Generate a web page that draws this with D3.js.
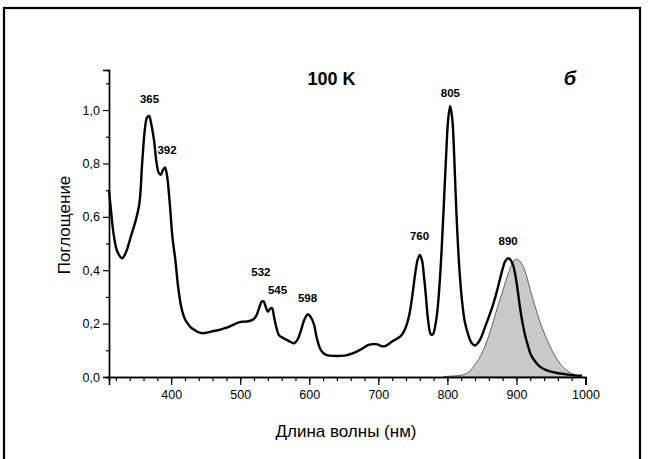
<!DOCTYPE html>
<html><head><meta charset="utf-8">
<script src="https://cdn.jsdelivr.net/npm/d3@7"></script>
<style>
html,body{margin:0;padding:0;background:#fff;}
svg{display:block;font-family:"Liberation Sans",Arial,sans-serif;}
</style></head>
<body>
<svg id="chart" width="648" height="459"></svg>
<script>
// Absorption spectrum (100 K)
const absWl = [310,313,317,322,329,335,342,348,354,358,362,365,368,371,375,379,382,385,388,391,394,398,402,406,410,414,418,422,428,434,440,446,452,458,468,477,485,491,497,503,510,518,523,527,531,534,537,540,543,546,549,552,556,562,568,573,578,583,588,593,598,602,607,611,616,621,627,635,645,655,662,670,677,686,693,699,704,709,714,720,726,732,737,741,745,749,753,757,760,763,766,769,772,776,779,783,786,790,794,798,801,804,807,810,813,817,821,825,830,835,840,845,850,855,860,865,870,875,880,884,888,891,895,898,901,905,909,913,917,920,926,934,945,955,963,975,985,995];
const absVal = [0.70,0.62,0.53,0.47,0.445,0.47,0.53,0.58,0.65,0.80,0.93,0.972,0.978,0.95,0.89,0.80,0.765,0.757,0.775,0.785,0.755,0.65,0.52,0.44,0.34,0.27,0.23,0.207,0.187,0.176,0.167,0.164,0.166,0.17,0.175,0.182,0.19,0.197,0.204,0.207,0.208,0.214,0.228,0.255,0.282,0.283,0.262,0.245,0.255,0.258,0.225,0.19,0.157,0.146,0.138,0.131,0.126,0.140,0.175,0.215,0.235,0.225,0.195,0.145,0.105,0.088,0.081,0.079,0.079,0.082,0.088,0.097,0.107,0.120,0.123,0.122,0.116,0.115,0.122,0.133,0.142,0.152,0.170,0.195,0.235,0.30,0.38,0.44,0.457,0.44,0.38,0.30,0.215,0.16,0.16,0.20,0.26,0.40,0.60,0.82,0.96,1.015,0.97,0.82,0.62,0.42,0.29,0.21,0.16,0.128,0.118,0.13,0.155,0.19,0.225,0.262,0.305,0.355,0.405,0.435,0.445,0.44,0.42,0.388,0.34,0.263,0.20,0.151,0.115,0.089,0.062,0.039,0.024,0.017,0.013,0.009,0.006,0.005];

// Fluorescence (filled, grey)
const flWl = [795,810,823,832,838,845,852,860,867,873,879,884,889,894,898,902,906,910,915,920,927,934,941,949,956,963,970,978,986,995];
const flVal = [0.002,0.004,0.008,0.02,0.04,0.065,0.10,0.155,0.213,0.265,0.313,0.355,0.394,0.425,0.44,0.44,0.43,0.413,0.375,0.326,0.265,0.207,0.16,0.113,0.078,0.051,0.031,0.016,0.007,0.002];

// Peak labels
const peakText = ["365","392","532","545","598","760","805","890"];
const peakWl   = [368.7,394,530,554,597.4,759.6,804.3,888];
const peakY    = [1.027,0.834,0.379,0.312,0.281,0.512,1.05,0.494];

// Axis ticks
const xTicks = [400,500,600,700,800,900,1000];
const yTicks = [0,0.2,0.4,0.6,0.8,1.0];

const svg = d3.select("#chart");
const x = d3.scaleLinear().domain([310,1000]).range([109,585.5]);
const y = d3.scaleLinear().domain([0,1.15]).range([377,70]);

// frame
svg.append("rect").attr("x",4).attr("y",8).attr("width",636).attr("height",470)
  .attr("fill","none").attr("stroke","#000").attr("stroke-width",2.2);

// fluorescence area
const flData = flWl.map((w,i)=>[w,flVal[i]]);
svg.append("path").datum(flData)
  .attr("d", d3.area().x(d=>x(d[0])).y0(y(0)).y1(d=>y(d[1])).curve(d3.curveCatmullRom))
  .attr("fill","#c9c9c9").attr("stroke","#555").attr("stroke-width",0.9);

// absorption line
const absData = absWl.map((w,i)=>[w,absVal[i]]);
svg.append("path").datum(absData)
  .attr("d", d3.line().x(d=>x(d[0])).y(d=>y(d[1])).curve(d3.curveCatmullRom))
  .attr("fill","none").attr("stroke","#000").attr("stroke-width",2.4).attr("stroke-linejoin","round");

// axes
const fmt = d => d3.format(".1f")(d).replace(".",",");
const gx = svg.append("g").attr("transform",`translate(0,${y(0)})`);
gx.call(d3.axisBottom(x).tickValues(d3.range(320,1001,20)).tickSize(4).tickFormat(""));
gx.append("g").call(d3.axisBottom(x).tickValues(xTicks).tickSize(8).tickFormat(d3.format("d")).tickPadding(5));
gx.selectAll(".domain").attr("stroke-width",1.6);
gx.selectAll("line").attr("stroke-width",1.2);

const gy = svg.append("g").attr("transform",`translate(${x(310)},0)`);
gy.call(d3.axisLeft(y).tickValues(d3.range(0.1,1.15,0.2)).tickSize(3).tickFormat(""));
gy.append("g").call(d3.axisLeft(y).tickValues(yTicks).tickSize(6).tickFormat(fmt).tickPadding(3));
gy.selectAll(".domain").attr("stroke-width",1.4);
gy.selectAll("line").attr("stroke-width",1.2);

svg.selectAll(".tick text").attr("font-size",12.5).attr("fill","#000")
  .attr("font-family","Liberation Sans, Arial, sans-serif");

// peak labels
svg.append("g").selectAll("text").data(peakText).join("text")
  .attr("x",(d,i)=>x(peakWl[i])).attr("y",(d,i)=>y(peakY[i]))
  .attr("text-anchor","middle").attr("font-size",11.5).attr("font-weight","bold").text(d=>d);

// titles
svg.append("text").attr("x",331.5).attr("y",85).attr("text-anchor","middle")
  .attr("font-size",18).attr("font-weight","bold").text("100 K");
svg.append("text").attr("x",570).attr("y",85).attr("text-anchor","middle")
  .attr("font-size",20).attr("font-weight","bold").attr("font-style","italic").text("б");

svg.append("text").attr("x",346).attr("y",437).attr("text-anchor","middle")
  .attr("font-size",17).text("Длина волны (нм)");
svg.append("text").attr("transform","translate(70,225) rotate(-90)").attr("text-anchor","middle")
  .attr("font-size",17).text("Поглощение");
</script>
</body></html>
